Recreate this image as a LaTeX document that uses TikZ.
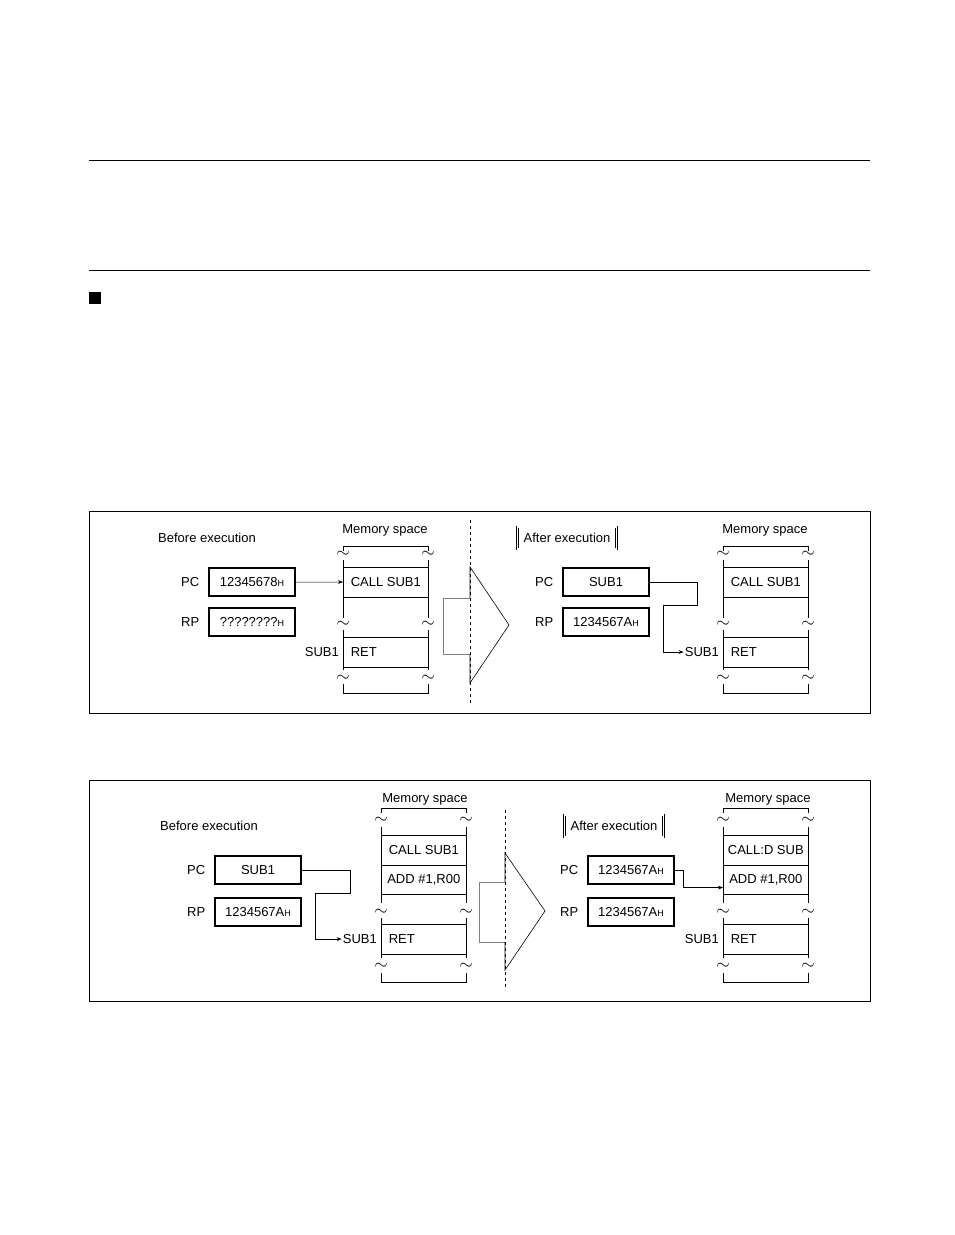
\documentclass[tikz,border=0pt]{standalone}
\usepackage{fontspec}
\setmainfont{Liberation Sans}
\usetikzlibrary{arrows.meta}
\newcommand{\hx}{{\fontsize{9}{9}\selectfont H}}
\tikzset{
  reg/.style={draw, line width=1.1pt, minimum width=86pt, minimum height=28pt, inner sep=0pt},
  cell/.style={draw, line width=0.6pt, minimum width=85pt, minimum height=29.5pt, inner sep=0pt},
  title/.style={draw, double, double distance=1.6pt, inner sep=6pt},
  lbl/.style={inner sep=1pt},
  tld/.style={inner sep=0pt, font=\fontsize{16}{16}\selectfont},
  col/.style={line width=1pt},
  link/.style={line width=0.5pt},
  bigarrow/.style={line width=0.6pt, gray},
}
\begin{document}
\begin{tikzpicture}[x=1pt, y=-1pt, font=\fontsize{13}{15}\selectfont]
		\useasboundingbox (0,0) rectangle (954,1235);
		\draw[line width=0.6pt] (89,160) -- (870,160);
		\draw[line width=0.6pt] (89,270) -- (870,270);
		\fill (89,292) rectangle (101,304);

		% first frame
		\draw[line width=0.6pt] (89,511) rectangle (870,713);
		\node (bef1)[title] at (207,538) {Before execution};
		\node (pc1)[reg] at (252,582) {12345678\hx};
		\node (rp1)[reg] at (252,622) {????????\hx};
		\node[lbl, left=8pt] at (pc1.west) {PC};
		\node[lbl, left=8pt] at (rp1.west) {RP};
		\node at (385,530) {Memory space};
		\draw[col] (343,551) -- (343,546) -- (428,546) -- (428,551);
		\draw[col] (343,560) -- (343,618) (428,560) -- (428,618);
		\draw[col] (343,630) -- (343,670) (428,630) -- (428,670);
		\draw[col] (343,684) -- (343,693) -- (428,693) -- (428,684);
		\foreach \y in {554,624,678} {
			\node[tld] at (343,\y) {$\sim$};
			\node[tld] at (428,\y) {$\sim$};
		}
		\node (call1)[cell, anchor=north west] at (343,567) {CALL SUB1};
		\node (ret1)[cell, anchor=north west, text width=70pt] at (343,637) {RET};
		\node[lbl, left=3pt] at (ret1.west) {SUB1};
		\draw[link, -{Stealth[length=5pt]}] (pc1) -- (call1);

		\draw[dashed, line width=0.5pt] (470,520) -- (470,703);
		\draw[bigarrow] (470,598) -- (443,598) -- (443,654) -- (470,654);
		\draw[line width=0.6pt] (470,598) -- (470,567) -- (509,625) -- (470,683) -- (470,654);

		\node (aft1)[title] at (567,538) {After execution};
		\node (pc2)[reg] at (606,582) {SUB1};
		\node (rp2)[reg] at (606,622) {1234567A\hx};
		\node[lbl, left=8pt] at (pc2.west) {PC};
		\node[lbl, left=8pt] at (rp2.west) {RP};
		\node at (765,530) {Memory space};
		\draw[col] (723,551) -- (723,546) -- (808,546) -- (808,551);
		\draw[col] (723,560) -- (723,618) (808,560) -- (808,618);
		\draw[col] (723,630) -- (723,670) (808,630) -- (808,670);
		\draw[col] (723,684) -- (723,693) -- (808,693) -- (808,684);
		\foreach \y in {554,624,678} {
			\node[tld] at (723,\y) {$\sim$};
			\node[tld] at (808,\y) {$\sim$};
		}
		\node (call2)[cell, anchor=north west] at (723,567) {CALL SUB1};
		\node (ret2)[cell, anchor=north west, text width=70pt] at (723,637) {RET};
		\node (sub2)[lbl, left=3pt] at (ret2.west) {SUB1};
		\draw[link, -{Stealth[length=5pt]}] (pc2.east) -- (697,582) -- (697,605) -- (663,605) |- (sub2.west);

		% second frame
		\draw[line width=0.6pt] (89,780) rectangle (870,1001);
		\node (bef2)[title] at (209,826) {Before execution};
		\node (pc3)[reg] at (258,870) {SUB1};
		\node (rp3)[reg] at (258,912) {1234567A\hx};
		\node[lbl, left=8pt] at (pc3.west) {PC};
		\node[lbl, left=8pt] at (rp3.west) {RP};
		\node at (425,799) {Memory space};
		\draw[col] (381,813) -- (381,808) -- (466,808) -- (466,813);
		\draw[col] (381,827) -- (381,903) (466,827) -- (466,903);
		\draw[col] (381,918) -- (381,958) (466,918) -- (466,958);
		\draw[col] (381,973) -- (381,982) -- (466,982) -- (466,973);
		\foreach \y in {820,912,966} {
			\node[tld] at (381,\y) {$\sim$};
			\node[tld] at (466,\y) {$\sim$};
		}
		\node (call3)[cell, anchor=north west] at (381,835) {CALL SUB1};
		\node (add3)[cell, anchor=north west] at (381,864.5) {ADD \#1,R00};
		\node (ret3)[cell, anchor=north west, text width=70pt] at (381,924) {RET};
		\node (sub3)[lbl, left=3pt] at (ret3.west) {SUB1};
		\draw[link, -{Stealth[length=5pt]}] (pc3.east) -- (350,870) -- (350,893) -- (315,893) |- (sub3.west);

		\draw[dashed, line width=0.5pt] (505,810) -- (505,990);
		\draw[bigarrow] (505,882) -- (479,882) -- (479,942) -- (505,942);
		\draw[line width=0.6pt] (505,882) -- (505,853) -- (545,911) -- (505,970) -- (505,942);

		\node (aft2)[title] at (614,826) {After execution};
		\node (pc4)[reg] at (631,870) {1234567A\hx};
		\node (rp4)[reg] at (631,912) {1234567A\hx};
		\node[lbl, left=8pt] at (pc4.west) {PC};
		\node[lbl, left=8pt] at (rp4.west) {RP};
		\node at (768,799) {Memory space};
		\draw[col] (723,813) -- (723,808) -- (808,808) -- (808,813);
		\draw[col] (723,827) -- (723,903) (808,827) -- (808,903);
		\draw[col] (723,918) -- (723,958) (808,918) -- (808,958);
		\draw[col] (723,973) -- (723,982) -- (808,982) -- (808,973);
		\foreach \y in {820,912,966} {
			\node[tld] at (723,\y) {$\sim$};
			\node[tld] at (808,\y) {$\sim$};
		}
		\node (call4)[cell, anchor=north west] at (723,835) {CALL:D SUB};
		\node (add4)[cell, anchor=north west] at (723,864.5) {ADD \#1,R00};
		\node (ret4)[cell, anchor=north west, text width=70pt] at (723,924) {RET};
		\node[lbl, left=3pt] at (ret4.west) {SUB1};
		\draw[link, -{Stealth[length=5pt]}] (pc4.east) -- (683,870) |- ([yshift=-8pt]add4.west);
	\end{tikzpicture}
\end{document}
